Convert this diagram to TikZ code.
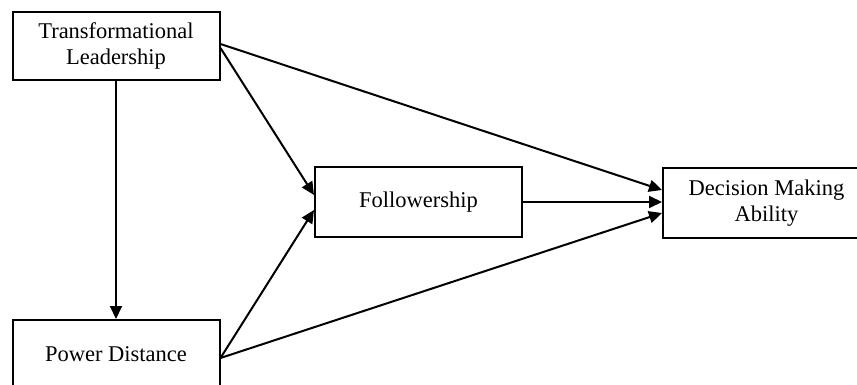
\documentclass[tikz,border=0pt]{standalone}
\usepackage{fontspec}
\setmainfont{Liberation Serif}
\usetikzlibrary{arrows.meta,calc}

\begin{document}
\begin{tikzpicture}[x=0.5pt,y=-0.5pt,
  varbox/.style={draw=black,line width=1pt,minimum width=103.5pt,minimum height=34pt,
    inner sep=0pt,align=center,font=\fontsize{11.25}{13}\selectfont},
  link/.style={draw=black,line width=1pt,-{Triangle[length=6.5pt,width=6pt]}}]
\useasboundingbox (0,0) rectangle (857,385);
\clip (0,0) rectangle (857,385);
\node [varbox] (tl) at (116,46) {Transformational\\Leadership};
\node [varbox] (pd) at (116,354) {Power Distance};
\node [varbox,minimum height=35pt] (fol) at (418.5,202) {Followership};
\node [varbox,minimum height=35pt] (dma) at (766.5,203) {Decision Making\\Ability};
\draw [link] (tl.south) -- (tl.south |- pd.north);
\draw [link] ($(tl.east)+(0,-2)$) -- ($(dma.west)+(0,-13)$);
\draw [link] ($(tl.east)+(0,2)$) -- ($(fol.west)+(0,-7)$);
\draw [link] ($(pd.east)+(0,4)$) -- ($(fol.west)+(0,8)$);
\draw [link] ($(pd.east)+(0,4)$) -- ($(dma.west)+(0,10)$);
\draw [link] (fol.east) -- (fol.east -| dma.west);
\end{tikzpicture}
\end{document}
